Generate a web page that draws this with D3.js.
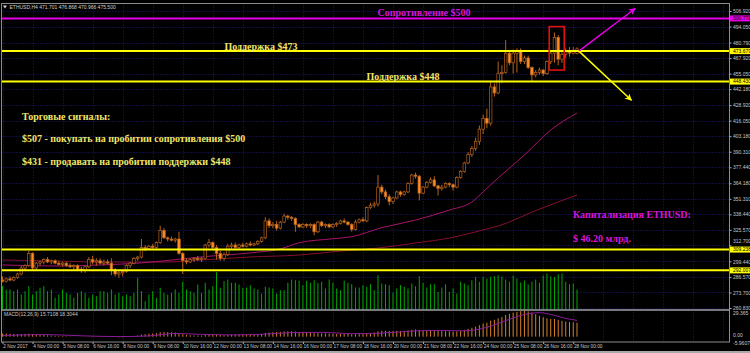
<!DOCTYPE html>
<html>
<head>
<meta charset="utf-8">
<script src="https://cdn.jsdelivr.net/npm/d3@7/dist/d3.min.js"></script>
<style>
  body { margin: 0; background: #000; }
  svg { display: block; }
</style>
</head>
<body>
<div id="container"></div>
<script>
/* DATA (ETHUSD H4) */
const opens = [284,283,285,284,286,289,294,296,306,294,298,299,301,299,300,298,297,298,296,295,
  296,293,292,295,301,299,300,298,299,298,292,289,290,291,296,298,302,303,311,310,
  312,311,315,325,319,318,317,318,306,300,299,301,302,301,302,313,315,311,306,302,
  305,312,313,311,313,312,314,313,314,316,319,333,329,330,327,332,337,336,335,330,
  328,330,329,330,324,332,329,330,328,330,331,333,332,330,326,332,334,333,344,346,
  347,361,357,353,349,352,357,355,357,364,371,370,356,361,365,367,362,360,361,364,
  363,361,369,374,381,388,393,399,409,418,414,444,439,455,456,472,464,472,474,465,
  468,460,454,456,458,455,465,472,485,467,471,473,472,471.701];
const highs = [287,286,287,287,290,296,297,308,307,299,300,302,303,301,301,300,299,299,298,297,
  297,295,296,303,304,302,302,301,301,302,294,292,292,297,299,303,304,318,313,313,
  314,316,329,327,320,320,319,324,307,302,302,303,304,303,314,318,316,313,308,307,
  314,315,315,314,315,315,316,315,317,320,336,335,332,333,333,339,338,337,336,331,
  331,331,331,331,333,333,331,331,331,332,334,335,333,331,334,335,336,345,348,349,
  371,363,359,355,353,358,358,358,365,372,373,371,362,366,369,370,363,363,365,365,
  364,370,375,382,390,395,402,412,421,426,448,447,465,462,483,474,475,476,476,470,
  470,461,458,460,459,466,473,489,487,474,476,477,477,476.868];
const lows = [282,282,283,283,285,288,292,295,292,293,296,297,298,297,297,296,295,295,294,293,
  292,290,290,294,297,296,297,296,297,288,287,286,287,290,294,297,300,302,308,309,
  310,310,314,318,316,316,315,305,289,297,298,299,300,299,301,311,309,301,300,300,
  304,310,310,309,311,311,312,312,313,315,318,327,327,325,326,331,334,333,324,327,
  327,327,327,321,323,328,327,327,327,328,330,331,329,324,325,331,332,332,343,344,
  345,355,351,346,347,351,353,354,356,363,368,350,355,360,364,361,354,358,360,361,
  358,360,368,373,380,386,391,396,405,410,412,436,438,447,455,462,455,456,463,463,
  459,449,452,454,453,454,463,464,462,464,468,469,471,470.966];
const closes = [283,285,284,286,289,294,296,306,294,298,299,301,299,300,298,297,298,296,295,296,
  293,292,295,301,299,300,298,299,298,292,289,290,291,296,298,302,303,311,310,312,
  311,315,325,319,318,317,318,306,300,299,301,302,301,302,313,315,311,306,302,305,
  312,313,311,313,312,314,313,314,316,319,333,329,330,327,332,337,336,335,330,328,
  330,329,330,324,332,329,330,328,330,331,333,332,330,326,332,334,333,344,346,347,
  361,357,353,349,352,357,355,357,364,371,370,356,361,365,367,362,360,361,364,363,
  361,369,374,381,388,393,399,409,418,414,444,439,455,456,472,464,472,474,465,468,
  460,454,456,458,455,465,472,485,467,471,473,472,474,475.5];

// tick volume, thousands
const volumes = [23.3,20,20,18.3,20,15,18.3,23.3,15,18.3,21.7,23.3,18.3,20,11.7,15,20,16.7,15,11.7,
  16.7,18.3,16.7,11.7,15,13.3,18.3,18.3,16.7,20,15,16.7,13.3,15,13.3,16.7,31.7,18.3,8.3,15,
  18.3,11.7,21.7,16.7,15,16.7,20,16.7,27.7,20,18.3,16.7,25,16.7,26.7,20,23.3,37.3,21.7,28.3,
  30,26.7,26.7,25,21.7,22,
  24.3,21,20,16,22.7,22,21,16,19.3,19.3,26.7,30,29.3,28.7,24.3,28.7,26.7,29.3,26.7,27.7,
  21,30,26.7,21,19.3,28.7,26.7,25.3,22,22,24.3,22.7,25.3,19.3,34.3,26,25.3,24.3,16.7,21,
  24.3,22.7,21,26,23.3,33.3,26.7,22,25.3,25.3,17.7,22,25.3,17.7,21,16,27.7,26,24.3,29.3,
  32.7,27.7,32.7,31,32.7,33.3,34.3,
  33,30,28,34,31,27,29,25,28,30,27,
  34,36,33,32.7,35.3,36,27.7,25.3,26,20];

// MACD(12,26,9) main line, one value per bar
const macd = [3.6,3.5,3.2,3.0,2.8,2.9,3.2,3.3,3.0,2.6,2.2,1.9,1.6,1.3,1.0,0.8,
  0.6,0.5,0.3,0.2,0.1,-0.1,-0.2,0.0,0.2,0.3,
  0.3,0.4,0.5,0.2,-0.3,-0.6,-0.7,-0.4,0.0,0.6,1.2,
  2.2,2.8,3.3,3.6,4.0,5.0,5.2,5.1,4.9,4.7,3.8,
  2.6,2.0,1.6,1.4,1.3,1.2,1.8,2.4,2.6,2.4,1.9,1.7,2.0,2.2,
  2.3,2.4,2.5,2.6,2.7,2.8,2.9,3.1,
  4.3,4.8,5.1,5.2,5.4,5.9,6.1,6.1,5.7,5.3,5.0,4.8,
  4.6,4.0,4.0,3.8,3.6,3.4,3.2,3.1,3.1,3.2,3.1,2.7,2.8,2.9,2.9,
  3.5,4.1,4.6,5.9,6.5,6.6,6.4,6.3,6.5,6.5,6.6,7.0,7.7,8.1,7.5,
  7.3,7.3,7.4,7.1,6.6,6.3,6.2,6.0,5.7,5.9,6.6,7.6,
  8.8,10.0,11.3,12.9,14.8,15.6,17.9,19.0,20.6,
  22.0,24.3,25.6,26.9,27.8,28.6,29.365,
  28.4,27.0,25.2,23.4,21.8,20.6,19.9,19.8,18.9,17.8,17.0,16.4,16.0,15.7108];

// signal line, read at [bar, value]
const macdSignal = [[0,1.2],[11,2.4],[21,1.0],[31,0.1],[39,0.9],[46,3.6],[53,2.6],[61,2.0],
  [69,2.7],[77,4.6],[85,4.9],[93,3.4],[101,4.0],[109,6.3],[117,7.0],[123,6.5],[129,10.5],
  [135,19.5],[139,24.9],[143,26.9],[147,23.9],[150,20.5],[153,18.3044]];

// moving averages, read at [bar, price]
const maFast = [[0,296.5],[15,295.6],[26,296.5],[37,298.2],[43,299.9],[53,303.2],[66,306.5],
  [74,309.8],[79,314.9],[88,318.2],[93,319.9],[101,327.4],[110,333.7],[119,342.0],[125,348.7],
  [128,357.0],[132,368.6],[139,387.6],[146,408.3],[153,422.4]];
const maSlow = [[0,300.6],[15,299.7],[26,298.9],[37,298.9],[43,298.9],[53,300.6],[66,303.1],
  [79,304.7],[90,308.0],[100,310.5],[110,314.7],[119,318.8],[128,325.5],[132,328.8],
  [143,342.8],[153,354.5]];

const resistanceLevels = [500.779];
const supportLevels = [473.679, 448.430, 309.238, 292.007];

const priceTicks = ["506.920","494.050","480.790","467.920","455.050","442.180","428.920","416.050",
  "403.180","390.310","377.440","364.180","351.310","338.440","325.570","312.700","299.440",
  "286.570","273.700","260.830"];
const macdTicks = ["29.365","0.00","-5.9607"];

const timeLabels = ["2 Nov 2017","4 Nov 00:00","5 Nov 08:00","6 Nov 16:00","8 Nov 00:00","9 Nov 08:00",
  "10 Nov 16:00","12 Nov 00:00","13 Nov 08:00","14 Nov 16:00","16 Nov 00:00","17 Nov 08:00",
  "18 Nov 16:00","20 Nov 00:00","21 Nov 08:00","22 Nov 16:00","24 Nov 00:00","25 Nov 08:00",
  "26 Nov 16:00","28 Nov 00:00"];
const timeIdx = [0,8,16,24,32,40,48,56,64,72,80,88,96,104,112,120,128,136,144,152];

/* CONSTANTS */
const width = 750, height = 353;
const frame = { left: 1.5, right: 729.5, top: 3.5, mainBottom: 309.5, macdTop: 310.5, macdBottom: 342 };
const serif = "'Liberation Serif', 'Times New Roman', serif";
const sans = "'Liberation Sans', Arial, sans-serif";
const textYellow = "#f0e66a", textMagenta = "#d816d8";

/* SCALES */
const xScale = d3.scaleLinear().domain([0, 153]).range([2.5, 577]);
const yScale = d3.scaleLinear().domain([260.83, 506.92]).range([308, 11]);
const volScale = d3.scaleLinear().domain([0, 40]).range([frame.mainBottom, frame.mainBottom - 40]);
const macdScale = d3.scaleLinear().domain([-5.9607, 29.365]).range([frame.macdBottom, frame.macdTop]);

const bars = closes.map((c, i) => ({ i, o: opens[i], h: highs[i], l: lows[i], c, v: volumes[i], m: macd[i] }));

/* SVG */
const svg = d3.select("#container")
  .append("svg")
  .attr("width", width)
  .attr("height", height)
  .style("background", "#000");

// grid
const gridIdx = timeIdx.concat(d3.range(160, 200, 8)).filter(i => xScale(i) < frame.right - 2);
svg.append("g")
  .selectAll("line")
  .data(gridIdx)
  .join("line")
  .attr("x1", d => Math.round(xScale(d)) + 0.5)
  .attr("x2", d => Math.round(xScale(d)) + 0.5)
  .attr("y1", frame.top)
  .attr("y2", frame.macdBottom)
  .attr("stroke", "#1c1c7c")
  .attr("stroke-dasharray", "1,2");

svg.append("g")
  .selectAll("line")
  .data(priceTicks.map(Number))
  .join("line")
  .attr("x1", frame.left)
  .attr("x2", frame.right)
  .attr("y1", d => Math.round(yScale(d)) + 0.5)
  .attr("y2", d => Math.round(yScale(d)) + 0.5)
  .attr("stroke", "#1c1c7c")
  .attr("stroke-dasharray", "1,2");

// volumes
svg.append("g")
  .selectAll("line")
  .data(bars)
  .join("line")
  .attr("x1", d => xScale(d.i))
  .attr("x2", d => xScale(d.i))
  .attr("y1", volScale(0))
  .attr("y2", d => volScale(d.v))
  .attr("stroke", "#00a800")
  .attr("stroke-width", 1);

// moving averages
const maLine = d3.line()
  .x(d => xScale(d[0]))
  .y(d => yScale(d[1]))
  .curve(d3.curveMonotoneX);

svg.append("path")
  .attr("d", maLine(maSlow))
  .attr("fill", "none")
  .attr("stroke", "#86102c")
  .attr("stroke-width", 1);

svg.append("path")
  .attr("d", maLine(maFast))
  .attr("fill", "none")
  .attr("stroke", "#a8146c")
  .attr("stroke-width", 1);

// candles
const candles = svg.append("g");
candles.selectAll("line")
  .data(bars)
  .join("line")
  .attr("x1", d => xScale(d.i))
  .attr("x2", d => xScale(d.i))
  .attr("y1", d => yScale(d.h))
  .attr("y2", d => yScale(d.l))
  .attr("stroke", "#b5621e")
  .attr("stroke-width", 1);

candles.selectAll("rect")
  .data(bars)
  .join("rect")
  .attr("x", d => xScale(d.i) - 1.3)
  .attr("width", 2.6)
  .attr("y", d => yScale(Math.max(d.o, d.c)))
  .attr("height", d => Math.max(0.8, Math.abs(yScale(d.o) - yScale(d.c))))
  .attr("fill", d => d.c >= d.o ? "#000" : "#ff8c22")
  .attr("stroke", "#b5621e")
  .attr("stroke-width", 0.7);

// levels
svg.append("g")
  .selectAll("line")
  .data(resistanceLevels)
  .join("line")
  .attr("x1", frame.left).attr("x2", frame.right)
  .attr("y1", d => yScale(d)).attr("y2", d => yScale(d))
  .attr("stroke", "#e600e6")
  .attr("stroke-width", 2);

svg.append("g")
  .selectAll("line")
  .data(supportLevels)
  .join("line")
  .attr("x1", frame.left).attr("x2", frame.right)
  .attr("y1", d => yScale(d)).attr("y2", d => yScale(d))
  .attr("stroke", "#ffff00")
  .attr("stroke-width", 2);

// red box around the spike
svg.append("rect")
  .attr("x", xScale(145.6))
  .attr("y", yScale(494))
  .attr("width", xScale(149.6) - xScale(145.6))
  .attr("height", yScale(458) - yScale(494))
  .attr("fill", "none")
  .attr("stroke", "#e01010")
  .attr("stroke-width", 1.6);

// arrows
const defs = svg.append("defs");
[["arrM", "#e600e6"], ["arrY", "#ffff00"]].forEach(([id, col]) => {
  defs.append("marker")
    .attr("id", id)
    .attr("viewBox", "0 0 10 10")
    .attr("refX", 9).attr("refY", 5)
    .attr("markerWidth", 7).attr("markerHeight", 7)
    .attr("markerUnits", "userSpaceOnUse")
    .attr("orient", "auto")
    .append("path")
    .attr("d", "M0,0 L10,5 L0,10 L3,5 Z")
    .attr("fill", col);
});

svg.append("line")
  .attr("x1", xScale(153.5)).attr("y1", yScale(473.679))
  .attr("x2", xScale(168.5)).attr("y2", yScale(509))
  .attr("stroke", "#e600e6").attr("stroke-width", 1.5)
  .attr("marker-end", "url(#arrM)");

svg.append("line")
  .attr("x1", xScale(153.5)).attr("y1", yScale(473.679))
  .attr("x2", xScale(167.5)).attr("y2", yScale(433))
  .attr("stroke", "#ffff00").attr("stroke-width", 1.5)
  .attr("marker-end", "url(#arrY)");

// MACD window
svg.append("g")
  .selectAll("line")
  .data(bars)
  .join("line")
  .attr("x1", d => xScale(d.i))
  .attr("x2", d => xScale(d.i))
  .attr("y1", macdScale(0))
  .attr("y2", d => macdScale(d.m))
  .attr("stroke", "#d4802a")
  .attr("stroke-width", 1);

svg.append("path")
  .attr("d", d3.line().x(d => xScale(d[0])).y(d => macdScale(d[1])).curve(d3.curveMonotoneX)(macdSignal))
  .attr("fill", "none")
  .attr("stroke", "#8a1c9c")
  .attr("stroke-width", 1);

// frames
svg.append("rect")
  .attr("x", frame.left).attr("y", frame.top)
  .attr("width", frame.right - frame.left)
  .attr("height", frame.macdBottom - frame.top)
  .attr("fill", "none")
  .attr("stroke", "#8c8c8c")
  .attr("stroke-width", 1);

svg.append("line")
  .attr("x1", frame.left).attr("x2", frame.right)
  .attr("y1", 310).attr("y2", 310)
  .attr("stroke", "#a0a0a0")
  .attr("stroke-width", 1.5);

svg.append("rect")
  .attr("x", 0).attr("y", 351)
  .attr("width", width).attr("height", 2)
  .attr("fill", "#a8a8a8");

/* AXES */
const levelAll = resistanceLevels.concat(supportLevels);
const yAxis = d3.axisRight(yScale)
  .tickValues(priceTicks.map(Number))
  .tickFormat((d, k) => priceTicks[k])
  .tickSize(2)
  .tickPadding(1.5);

const yAxisG = svg.append("g")
  .attr("transform", `translate(${frame.right},0)`)
  .call(yAxis);
yAxisG.select(".domain").remove();
yAxisG.selectAll("line").attr("stroke", "#b0b0b0");
yAxisG.selectAll("text")
  .attr("fill", "#c8c8c8")
  // nudge a tick label up when a level box sits just under it
  .attr("dy", d => levelAll.some(v => Math.abs(yScale(v) - yScale(d)) < 5.5) ? "-0.6em" : "0.32em")
  .style("font-family", sans)
  .style("font-size", "5px");

const xAxis = d3.axisBottom(xScale)
  .tickValues(timeIdx)
  .tickFormat((d, k) => timeLabels[k])
  .tickSize(2)
  .tickPadding(1);

const xAxisG = svg.append("g")
  .attr("transform", `translate(0,${frame.macdBottom})`)
  .call(xAxis);
xAxisG.select(".domain").remove();
xAxisG.selectAll("line").attr("stroke", "#b0b0b0");
xAxisG.selectAll("text")
  .attr("fill", "#c8c8c8")
  .attr("text-anchor", "start")
  .attr("dx", "0.2")
  .style("font-family", sans)
  .style("font-size", "4.8px");

// MACD scale labels
const macdLabelY = [macdScale(29.365) + 4.5, macdScale(0) + 0.8, macdScale(-5.9607) + 3.2];
svg.append("g")
  .selectAll("text")
  .data(macdTicks)
  .join("text")
  .attr("x", frame.right + 3.5)
  .attr("y", (d, k) => macdLabelY[k])
  .attr("fill", "#c8c8c8")
  .style("font-family", sans)
  .style("font-size", "5px")
  .text(d => d);

// level price boxes on the axis
const levelBoxes = resistanceLevels.map(v => ({ v, col: "#e600e6" }))
  .concat(supportLevels.map(v => ({ v, col: "#ffff00" })));
const boxG = svg.append("g")
  .selectAll("g")
  .data(levelBoxes)
  .join("g")
  .attr("transform", d => `translate(${frame.right + 0.5},${yScale(d.v)})`);
boxG.append("rect")
  .attr("x", 0).attr("y", -3)
  .attr("width", 20).attr("height", 6)
  .attr("fill", d => d.col);
boxG.append("text")
  .attr("x", 3).attr("y", 1.8)
  .attr("fill", "#000")
  .style("font-family", sans)
  .style("font-size", "5px")
  .text(d => d.v.toFixed(3));

/* TEXTS */
svg.append("path")
  .attr("d", "M3,5.5 L7,5.5 L5,8.5 Z")
  .attr("fill", "#d0d0d0");
svg.append("text")
  .attr("x", 9.5).attr("y", 9)
  .attr("fill", "#d0d0d0")
  .style("font-family", sans)
  .style("font-size", "5px")
  .text(`ETHUSD,H4  ${opens[153].toFixed(3)} ${highs[153].toFixed(3)} ${lows[153].toFixed(3)} ${closes[153].toFixed(3)}`);

svg.append("text")
  .attr("x", 4).attr("y", 316)
  .attr("fill", "#c8c8c8")
  .style("font-family", sans)
  .style("font-size", "5px")
  .text(`MACD(12,26,9) ${macd[153].toFixed(4)} ${macdSignal[macdSignal.length - 1][1].toFixed(4)}`);

const notes = [
  { t: "Сопротивление $500", x: 424, y: 16, a: "middle", c: textMagenta },
  { t: "Поддержка $473", x: 261, y: 49.5, a: "middle", c: textYellow },
  { t: "Поддержка $448", x: 403, y: 80, a: "middle", c: textYellow },
  { t: "Торговые сигналы:", x: 22, y: 119.5, a: "start", c: textYellow },
  { t: "$507 - покупать на пробитии сопротивления $500", x: 22, y: 141.5, a: "start", c: textYellow },
  { t: "$431 - продавать на пробитии поддержки $448", x: 22, y: 164.5, a: "start", c: textYellow },
  { t: "Капитализация ETHUSD:", x: 573, y: 217.5, a: "start", c: textMagenta },
  { t: "$ 46.20 млрд.", x: 573, y: 241.5, a: "start", c: textMagenta }
];
svg.append("g")
  .selectAll("text")
  .data(notes)
  .join("text")
  .attr("x", d => d.x)
  .attr("y", d => d.y)
  .attr("text-anchor", d => d.a)
  .attr("fill", d => d.c)
  .style("font-family", serif)
  .style("font-weight", "bold")
  .style("font-size", "10px")
  .text(d => d.t);
</script>
</body>
</html>
